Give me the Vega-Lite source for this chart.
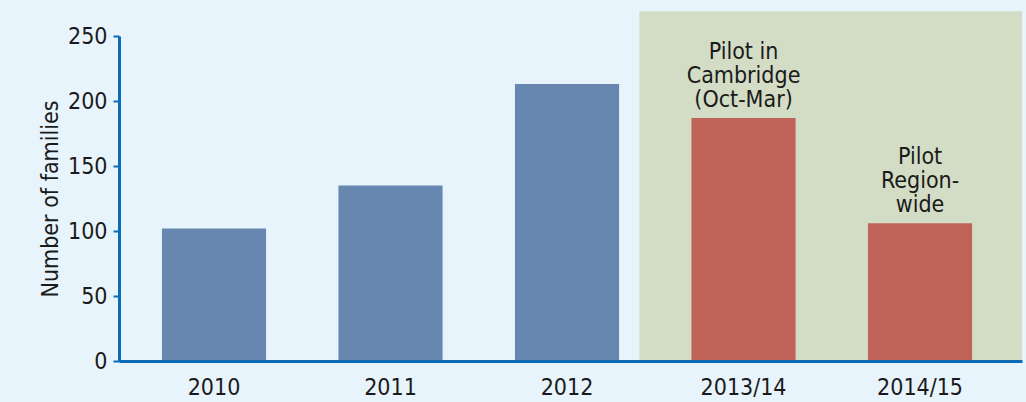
{
  "$schema": "https://vega.github.io/schema/vega-lite/v6.json",
  "autosize": "none",
  "width": 903,
  "height": 325,
  "padding": {"left": 119, "top": 36, "right": 4, "bottom": 41},
  "background": "#e8f4fb",
  "config": {
    "view": {"stroke": null},
    "font": "DejaVu Sans Condensed, sans-serif",
    "axis": {
      "labelFont": "DejaVu Sans Condensed, sans-serif",
      "titleFont": "DejaVu Sans Condensed, sans-serif",
      "labelColor": "#1a1a1a",
      "titleColor": "#1a1a1a",
      "domainColor": "#0a6bb7",
      "domainWidth": 3,
      "tickColor": "#0a6bb7",
      "grid": false
    }
  },
  "datasets": {
    "bars": [
      {"year": "2010", "families": 102, "period": "Historical", "note": ""},
      {"year": "2011", "families": 135, "period": "Historical", "note": ""},
      {"year": "2012", "families": 213, "period": "Historical", "note": ""},
      {"year": "2013/14", "families": 187, "period": "Pilot", "note": "Pilot in\nCambridge\n(Oct-Mar)"},
      {"year": "2014/15", "families": 106, "period": "Pilot", "note": "Pilot\nRegion-\nwide"}
    ],
    "shade": [
      {"start": "2012", "low": 0, "high": 269}
    ]
  },
  "layer": [
    {
      "data": {"name": "shade"},
      "mark": {"type": "rect", "color": "#d3dcc4"},
      "encoding": {
        "x": {"field": "start", "type": "nominal", "bandPosition": 0.91},
        "x2": {"value": "width"},
        "y": {"field": "low", "type": "quantitative"},
        "y2": {"field": "high"}
      }
    },
    {
      "data": {"name": "bars"},
      "mark": {"type": "bar", "width": {"band": 0.59}},
      "encoding": {
        "x": {
          "field": "year", "type": "nominal", "sort": null,
          "scale": {"domain": ["2010", "2011", "2012", "2013/14", "2014/15"], "paddingInner": 0, "paddingOuter": 0.058, "align": 0.33},
          "axis": {"title": null, "labelAngle": 0, "labelAlign": "center", "ticks": false, "labelFontSize": 23, "labelPadding": 26}
        },
        "y": {
          "field": "families", "type": "quantitative",
          "scale": {"domain": [0, 250], "nice": false},
          "axis": {"title": "Number of families", "values": [0, 50, 100, 150, 200, 250], "tickSize": 6, "tickWidth": 2, "labelFontSize": 23, "labelPadding": 6, "titleFontSize": 23, "titleFontWeight": "normal", "titlePadding": 5}
        },
        "color": {
          "field": "period", "type": "nominal",
          "scale": {"domain": ["Historical", "Pilot"], "range": ["#6787b0", "#c0645a"]},
          "legend": null
        }
      }
    },
    {
      "data": {"name": "bars"},
      "mark": {"type": "text", "align": "center", "baseline": "bottom", "dy": -54, "fontSize": 23, "lineHeight": 24, "lineBreak": "\n", "color": "#1a1a1a"},
      "encoding": {
        "x": {"field": "year", "type": "nominal", "sort": null},
        "y": {"field": "families", "type": "quantitative"},
        "text": {"field": "note"}
      }
    }
  ]
}
